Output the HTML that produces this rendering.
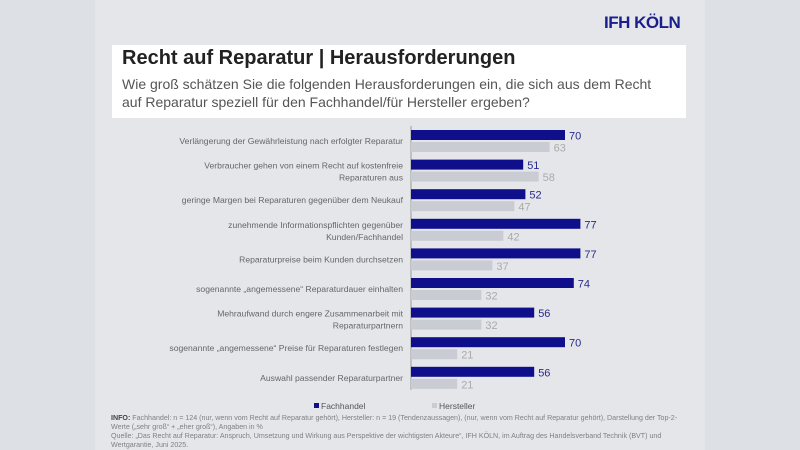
<!DOCTYPE html>
<html><head><meta charset="utf-8"><style>
body{margin:0;width:800px;height:450px;overflow:hidden;background:#dcdfe3;font-family:"Liberation Sans",sans-serif;position:relative}
.side{position:absolute;top:0;height:450px;background:#dde0e4}
#panel{position:absolute;left:95px;top:0;width:610px;height:450px;background:#e4e6ea}
#logo{position:absolute;left:604px;top:13px;font-weight:bold;font-size:17px;color:#1a1f8c;letter-spacing:-0.5px}
#tbox{position:absolute;left:112px;top:45px;width:574px;height:73px;background:#fff}
#title{position:absolute;left:122px;top:47px;font-size:20px;font-weight:bold;color:#222}
#sub{position:absolute;left:122px;top:75px;font-size:14px;line-height:18px;color:#555}
#foot{position:absolute;left:111px;top:414px;width:600px;font-size:7.1px;line-height:9px;color:#808080;white-space:nowrap}
</style></head><body>
<div class="side" style="left:0;width:95px"></div>
<div class="side" style="left:705px;width:95px"></div>
<div id="panel"></div>
<div id="logo">IFH KÖLN</div>
<div id="tbox"></div>
<div id="title">Recht auf Reparatur | Herausforderungen</div>
<div id="sub">Wie groß schätzen Sie die folgenden Herausforderungen ein, die sich aus dem Recht<br>auf Reparatur speziell für den Fachhandel/für Hersteller ergeben?</div>
<svg id="chart" width="800" height="450" style="position:absolute;left:0;top:0"></svg>
<div id="foot"><b style="color:#444">INFO:</b> Fachhandel: n = 124 (nur, wenn vom Recht auf Reparatur gehört), Hersteller: n = 19 (Tendenzaussagen), (nur, wenn vom Recht auf Reparatur gehört), Darstellung der Top-2-<br>Werte („sehr groß“ + „eher groß“), Angaben in %<br>Quelle: „Das Recht auf Reparatur: Anspruch, Umsetzung und Wirkung aus Perspektive der wichtigsten Akteure“, IFH KÖLN, im Auftrag des Handelsverband Technik (BVT) und<br>Wertgarantie, Juni 2025.</div>
<script>
const categories=[["Verlängerung der Gewährleistung nach erfolgter Reparatur"],["Verbraucher gehen von einem Recht auf kostenfreie","Reparaturen aus"],["geringe Margen bei Reparaturen gegenüber dem Neukauf"],["zunehmende Informationspflichten gegenüber","Kunden/Fachhandel"],["Reparaturpreise beim Kunden durchsetzen"],["sogenannte „angemessene“ Reparaturdauer einhalten"],["Mehraufwand durch engere Zusammenarbeit mit","Reparaturpartnern"],["sogenannte „angemessene“ Preise für Reparaturen festlegen"],["Auswahl passender Reparaturpartner"]];
const fachhandel=[70,51,52,77,77,74,56,70,56];
const hersteller=[63,58,47,42,37,32,32,21,21];
const seriesNames=["Fachhandel","Hersteller"];
const NS="http://www.w3.org/2000/svg";
const svg=document.getElementById('chart');
const x0=411,pxPer=2.2;
const xs=v=>x0+v*pxPer;
const yg=i=>130+i*29.6;
function mk(t,a){const e=document.createElementNS(NS,t);for(const k in a)e.setAttribute(k,a[k]);svg.appendChild(e);return e;}
const ax=mk('line',{x1:x0,x2:x0,y1:126,y2:390,stroke:'#999','stroke-width':1});


categories.forEach((c,i)=>{
  const y=yg(i);
  const lbl=mk('text',{x:403,'text-anchor':'end','font-size':'8.6',fill:'#666','font-family':'Liberation Sans, sans-serif'});
  
  
  const cy=y+11;
  c.forEach((ln,j)=>{const ts=document.createElementNS(NS,'tspan');ts.setAttribute('x',403);ts.setAttribute('y',(c.length==1?cy+3:cy-2+j*12));ts.textContent=ln;lbl.appendChild(ts);});
  [[fachhandel[i],'#0f0f8c','#2a2a8c',0],[hersteller[i],'#c9ccd3','#aaa',12]].forEach(([v,col,tc,off],k)=>{
    const b=mk('rect',{x:x0,y:y+off,width:xs(v)-x0,height:10,fill:col});
    
    
    const t=mk('text',{x:xs(v)+4,y:y+off+9.5,'font-size':'11',fill:tc,'font-family':'Liberation Sans, sans-serif'});
    t.textContent=v;
    
    
  });
});
[[314,'#0f0f8c',seriesNames[0]],[432,'#c9ccd3',seriesNames[1]]].forEach(([x,c,n])=>{
  const g=mk('g',{});
  
  
  const r=document.createElementNS(NS,'rect');r.setAttribute('x',x);r.setAttribute('y',403);r.setAttribute('width',5);r.setAttribute('height',5);r.setAttribute('fill',c);g.appendChild(r);
  const t=document.createElementNS(NS,'text');t.setAttribute('x',x+7);t.setAttribute('y',409);t.setAttribute('font-size','8.5');t.setAttribute('fill','#555');t.textContent=n;g.appendChild(t);
});
</script>
</body></html>
